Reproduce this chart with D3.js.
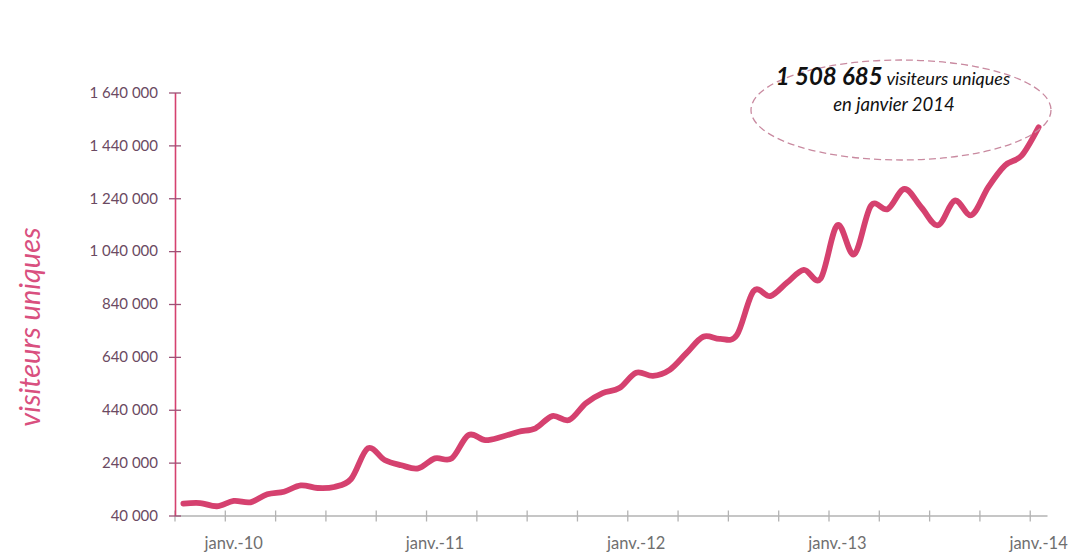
<!DOCTYPE html>
<html>
<head>
<meta charset="utf-8">
<script src="https://cdn.jsdelivr.net/npm/d3@7"></script>
<style>
  html, body { margin: 0; padding: 0; background: #fff; }
  svg { display: block; }
</style>
</head>
<body>
<svg id="chart"></svg>
<script>
// monthly unique visitors, oct. 2009 -> janv. 2014
var months = [
  '2009-10','2009-11','2009-12',
  '2010-01','2010-02','2010-03','2010-04','2010-05','2010-06','2010-07','2010-08','2010-09','2010-10','2010-11','2010-12',
  '2011-01','2011-02','2011-03','2011-04','2011-05','2011-06','2011-07','2011-08','2011-09','2011-10','2011-11','2011-12',
  '2012-01','2012-02','2012-03','2012-04','2012-05','2012-06','2012-07','2012-08','2012-09','2012-10','2012-11','2012-12',
  '2013-01','2013-02','2013-03','2013-04','2013-05','2013-06','2013-07','2013-08','2013-09','2013-10','2013-11','2013-12',
  '2014-01'
]
var visitors = [
  85000, 87000, 75000,
  95000, 90000, 120000, 130000, 154000, 144000, 148000, 178000, 294000, 250000, 230000, 218000,
  256000, 256000, 344000, 325000, 338000, 357000, 370000, 416000, 401000, 465000, 503000, 522000,
  580000, 568000, 591000, 654000, 716000, 708000, 722000, 889000, 870000, 921000, 969000, 936000,
  1138000, 1028000, 1212000, 1199000, 1275000, 1206000, 1138000, 1231000, 1176000, 1282000, 1364000, 1402000,
  1508685
]
var xTickLabels = {'2010-01': 'janv.-10', '2011-01': 'janv.-11', '2012-01': 'janv.-12', '2013-01': 'janv.-13', '2014-01': 'janv.-14'}
var yTicks = [40000, 240000, 440000, 640000, 840000, 1040000, 1240000, 1440000, 1640000]
var calloutValue = '1 508 685'
var calloutText = ['visiteurs uniques', 'en janvier 2014']
var yTitle = 'visiteurs uniques'

var width = 1072
var height = 553
var pink = '#d5416f'

var fr = d3.formatLocale({decimal: ',', thousands: '\u00a0', grouping: [3], currency: ['', ' €']})
var fmt = fr.format(',d')

var data = months.map((m, i) => ({month: m, value: visitors[i]}))

var x = d3.scaleBand()
    .domain(months)
    .range([175, 1047])
    .paddingInner(0)
    .paddingOuter(0)

var y = d3.scaleLinear()
    .domain([40000, 1640000])
    .range([515.5, 92.5])

const svg = d3.select('#chart')
    .attr('width', width)
    .attr('height', height)
    .style('font-family', 'Lato, "Open Sans", sans-serif')

// x axis: ticks every 3 months on category boundaries
var tickMonths = months.filter((m, i) => i % 3 === 0)
const xAxis = d3.axisBottom(x)
    .tickValues(tickMonths)
    .tickSize(0)
    .tickFormat('')

svg.append('g')
    .attr('transform', `translate(0,${y(40000)})`)
    .call(xAxis)
    .call(g => g.select('.domain').attr('stroke', '#b3b3b3').attr('stroke-width', 1.3))

svg.append('g')
  .selectAll('line')
  .data(tickMonths)
  .join('line')
    .attr('x1', d => x(d))
    .attr('x2', d => x(d))
    .attr('y1', y(40000) - 5)
    .attr('y2', y(40000) + 6)
    .attr('stroke', '#b3b3b3')
    .attr('stroke-width', 1.3)

svg.append('g')
  .selectAll('text')
  .data(Object.keys(xTickLabels))
  .join('text')
    .attr('x', d => x(d) + x.bandwidth() / 2)
    .attr('y', 549)
    .attr('text-anchor', 'middle')
    .attr('fill', '#6f6f6f')
    .style('font-size', '16.5px')
    .text(d => xTickLabels[d])

// y axis (pink line, crossing ticks)
const yAxis = d3.axisLeft(y)
    .tickValues(yTicks)
    .tickSize(0)
    .tickPadding(17)
    .tickFormat(fmt)

svg.append('g')
    .attr('transform', 'translate(175,0)')
    .call(yAxis)
    .call(g => g.select('.domain').attr('stroke', pink).attr('stroke-width', 1.6))
    .call(g => g.selectAll('.tick text')
        .attr('fill', '#6b4a62')
        .style('font-size', '15px')
        .style('font-family', 'Lato, "Open Sans", sans-serif'))
    .call(g => g.selectAll('.tick').append('line')
        .attr('x1', -6)
        .attr('x2', 6)
        .attr('stroke', '#9a5276')
        .attr('stroke-width', 1.3))

svg.append('text')
    .attr('transform', 'translate(40,327) rotate(-90)')
    .attr('text-anchor', 'middle')
    .attr('fill', '#d9507f')
    .style('font-size', '29px')
    .style('font-style', 'italic')
    .text(yTitle)

// the curve
const line = d3.line()
    .x(d => x(d.month) + x.bandwidth() / 2)
    .y(d => y(d.value))
    .curve(d3.curveCatmullRom.alpha(0))

svg.append('path')
    .datum(data)
    .attr('fill', 'none')
    .attr('stroke', pink)
    .attr('stroke-width', 5.8)
    .attr('stroke-linecap', 'round')
    .attr('stroke-linejoin', 'round')
    .attr('d', line)

// callout
svg.append('ellipse')
    .attr('cx', 901)
    .attr('cy', 110)
    .attr('rx', 150)
    .attr('ry', 50)
    .attr('fill', 'none')
    .attr('stroke', '#c98aa0')
    .attr('stroke-width', 1.3)
    .attr('stroke-dasharray', '7,4')

const t1 = svg.append('text')
    .attr('x', 893)
    .attr('y', 85)
    .attr('text-anchor', 'middle')
    .attr('fill', '#111')
    .style('font-style', 'italic')
t1.append('tspan')
    .style('font-weight', 'bold')
    .style('font-size', '24px')
    .text(calloutValue)
t1.append('tspan')
    .style('font-size', '18px')
    .text(' ' + calloutText[0])

svg.append('text')
    .attr('x', 894)
    .attr('y', 111)
    .attr('text-anchor', 'middle')
    .attr('fill', '#111')
    .style('font-style', 'italic')
    .style('font-size', '18.5px')
    .text(calloutText[1])
</script>
</body>
</html>
